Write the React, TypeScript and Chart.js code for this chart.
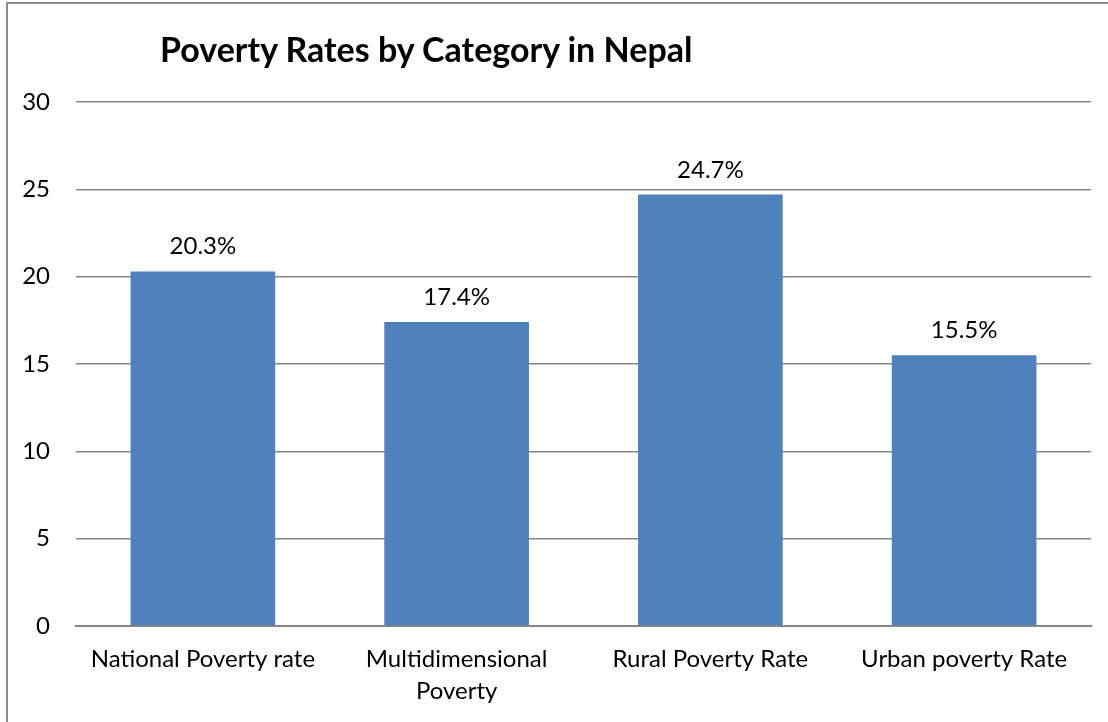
import React, { useEffect, useRef } from "react";
import { Chart, registerables } from "chart.js";

Chart.register(...registerables);

const categories: (string | string[])[] = [
  "National Poverty rate",
  ["Multidimensional", "Poverty"],
  "Rural Poverty Rate",
  "Urban poverty Rate",
];
const povertyRates = [20.3, 17.4, 24.7, 15.5];
const yTicks = [0, 5, 10, 15, 20, 25, 30];
const chartTitle = "Poverty Rates by Category in Nepal";

const FONT = "Lato, 'Open Sans', sans-serif";

const labelPlugin = {
  id: "barLabels",
  afterDatasetsDraw(chart: any) {
    const ctx = chart.ctx;
    const meta = chart.getDatasetMeta(0);
    ctx.save();
    ctx.font = `24px ${FONT}`;
    ctx.fillStyle = "#000";
    ctx.textAlign = "center";
    ctx.textBaseline = "alphabetic";
    meta.data.forEach((bar: any, i: number) => {
      ctx.fillText(povertyRates[i].toFixed(1) + "%", bar.x, bar.y - 17);
    });
    ctx.restore();
  },
};

export default function App() {
  const ref = useRef<HTMLCanvasElement | null>(null);
  useEffect(() => {
    document.body.style.margin = "0";
    const chart = new Chart(ref.current!, {
      type: "bar",
      data: {
        labels: categories,
        datasets: [
          {
            data: povertyRates,
            backgroundColor: "#4F81BD",
            barPercentage: 0.57,
            categoryPercentage: 1,
          },
        ],
      },
      options: {
        animation: false,
        responsive: false,
        layout: { padding: { left: 0, top: 102, right: 17, bottom: 0 } },
        plugins: {
          legend: { display: false },
          tooltip: { enabled: false },
        },
        scales: {
          x: {
            grid: { display: false, drawTicks: false },
            border: { display: true, color: "#868686", width: 2 },
            ticks: {
              color: "#000",
              font: { family: FONT, size: 24, lineHeight: 1.3 },
              padding: 18,
              maxRotation: 0,
              autoSkip: false,
            },
            afterFit(scale: any) {
              scale.height = 96;
            },
          },
          y: {
            min: 0,
            max: 30,
            afterBuildTicks(scale: any) {
              scale.ticks = yTicks.map((v) => ({ value: v }));
            },
            grid: { color: "#868686", lineWidth: 1.5, drawTicks: false },
            border: { display: false },
            ticks: {
              color: "#000",
              font: { family: FONT, size: 24 },
              padding: 26,
            },
            afterFit(scale: any) {
              scale.width = 76;
            },
          },
        },
      },
      plugins: [labelPlugin],
    });
    return () => chart.destroy();
  }, []);

  return (
    <div style={{ position: "relative", width: 1108, height: 722, overflow: "hidden", background: "#fff" }}>
      <div
        style={{
          position: "absolute",
          left: 6,
          top: 2,
          width: 1120,
          height: 740,
          border: "2px solid #8c8c8c",
          boxSizing: "border-box",
        }}
      />
      <canvas ref={ref} width={1108} height={722} style={{ position: "absolute", left: 0, top: 0 }} />
      <div
        style={{
          position: "absolute",
          left: 160,
          top: 32,
          fontFamily: FONT,
          fontWeight: 700,
          fontSize: 34,
          lineHeight: 1,
          color: "#000",
          whiteSpace: "nowrap",
        }}
      >
        {chartTitle}
      </div>
    </div>
  );
}
